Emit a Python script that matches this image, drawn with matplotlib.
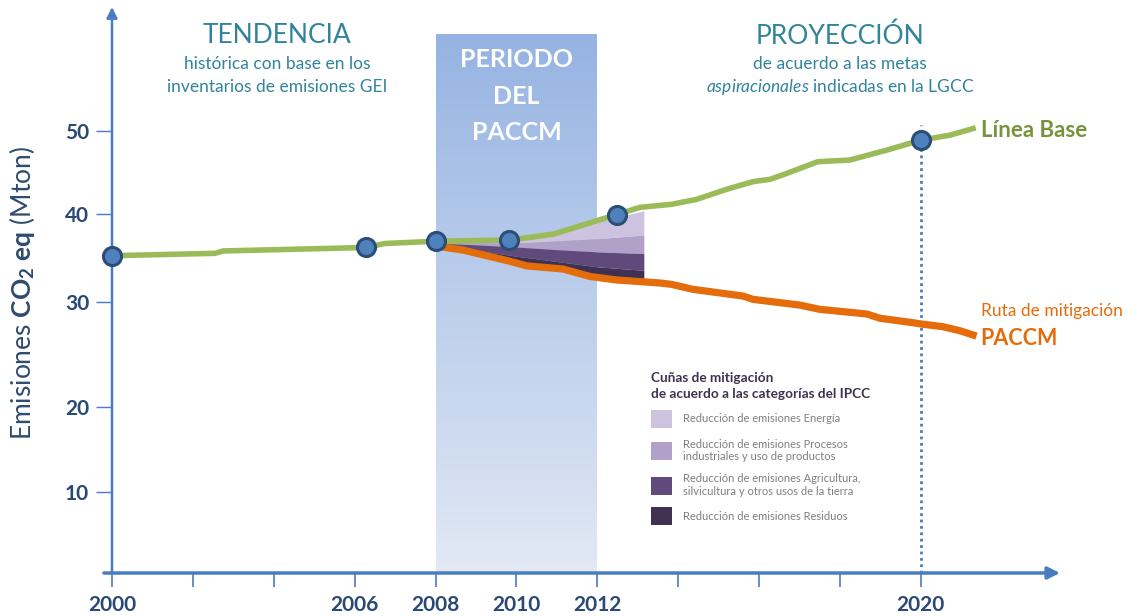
import numpy as np
import matplotlib
matplotlib.use("Agg")
import matplotlib.pyplot as plt
from matplotlib.colors import LinearSegmentedColormap

plt.rcParams['font.family'] = ['Lato', 'DejaVu Sans']
plt.rcParams['mathtext.fontset'] = 'custom'
plt.rcParams['mathtext.rm'] = 'Lato'
plt.rcParams['mathtext.it'] = 'Lato:italic'
plt.rcParams['mathtext.bf'] = 'Lato:bold'

# ---- data ----
base_years = [2000, 2002.55, 2002.74, 2005.44, 2006.28, 2006.75, 2008, 2009.81, 2010.26,
              2010.9, 2011.4, 2011.89, 2012.48, 2013.05, 2013.84, 2014.46, 2015.2, 2015.85,
              2016.27, 2016.69, 2017.45, 2018.24, 2019.16, 2020, 2020.72, 2021.29]
base_values = [35.26, 35.53, 35.8, 36.1, 36.2, 36.65, 36.9, 37.05, 37.3,
               37.7, 38.4, 39.1, 39.94, 40.8, 41.17, 41.77, 42.98, 43.9,
               44.18, 44.9, 46.3, 46.5, 47.7, 48.9, 49.5, 50.3]

mitig_years = [2008, 2008.68, 2009.81, 2010.26, 2011.15, 2011.82, 2012.48, 2013.55, 2013.84,
               2014.36, 2015.6, 2015.85, 2017.0, 2017.5, 2018.66, 2018.99, 2019.8, 2020.02,
               2020.54, 2020.96, 2021.29]
mitig_values = [36.36, 35.9, 34.66, 34.1, 33.75, 32.9, 32.5, 32.16, 32.0,
                31.44, 30.68, 30.3, 29.71, 29.3, 28.86, 28.45, 28.03, 27.9,
                27.65, 27.27, 26.86]

point_years = [2000, 2006.28, 2008, 2009.81, 2012.48, 2020]
point_values = [35.26, 36.2, 36.9, 37.05, 39.94, 48.9]

# mitigation wedges (boundaries from top to bottom)
wedge_years = [2008, 2009, 2010, 2011, 2012, 2013.15]
wedge_top = [36.9, 37.0, 37.1, 37.9, 39.1, 40.4]
wedge_b1 = [36.8, 36.75, 36.7, 36.95, 37.2, 37.6]
wedge_b2 = [36.7, 36.5, 36.25, 35.95, 35.7, 35.5]
wedge_b3 = [36.5, 35.9, 35.2, 34.6, 34.0, 33.6]
wedge_bottom = [36.36, 35.5, 34.4, 33.85, 32.9, 32.3]
wedge_labels = ['Reducción de emisiones Energía',
                'Reducción de emisiones Procesos\nindustriales y uso de productos',
                'Reducción de emisiones Agricultura,\nsilvicultura y otros usos de la tierra',
                'Reducción de emisiones Residuos']

period = (2008, 2012)
target_year = 2020

x_ticks = list(range(2000, 2021, 2))
x_labeled = [2000, 2006, 2008, 2010, 2012, 2020]
y_ticks = [10, 20, 30, 40, 50]

# the hand-drawn y axis is not evenly spaced: value -> height in px above the x axis
axis_vals = [0, 10, 20, 30, 40, 50, 65]
axis_px = [0, 81, 166, 271, 359, 442, 566]

AXIS = '#4a7cc0'
NAVY = '#2a4a75'
TEAL = '#31849b'
GREEN = '#9bbb59'
ORANGE = '#e46c0a'
WEDGE_COLORS = ['#cdc3de', '#b1a0c7', '#604a7b', '#403152']

fig = plt.figure(figsize=(11.41, 6.16), dpi=100)
ax = fig.add_axes([112 / 1141, 43 / 616, 948 / 1141, 566 / 616])
ax.set_yscale('function', functions=(lambda v: np.interp(v, axis_vals, axis_px),
                                     lambda h: np.interp(h, axis_px, axis_vals)))
ax.set_xlim(2000, 2023.44)
ax.set_ylim(0, 65)
for s in ax.spines.values():
    s.set_visible(False)

# period box with vertical gradient
cmap = LinearSegmentedColormap.from_list('period', ['#e3e9f5', '#95b3e2'])
grad = np.linspace(0, 1, 256).reshape(-1, 1)
ax.imshow(grad, cmap=cmap, origin='lower', aspect='auto',
          extent=(period[0], period[1], 0, 61.85), zorder=0)
ax.text(np.mean(period), 54.2, 'PERIODO\nDEL\nPACCM', color='white', fontsize=18,
        fontweight='bold', ha='center', va='center', linespacing=1.72, zorder=2)

# wedges
bounds = [wedge_top, wedge_b1, wedge_b2, wedge_b3, wedge_bottom]
handles = []
for i in range(4):
    h = ax.fill_between(wedge_years, bounds[i + 1], bounds[i], color=WEDGE_COLORS[i],
                        lw=0, zorder=2, label=wedge_labels[i])
    handles.append(h)

# lines
ax.plot(base_years, base_values, color=GREEN, lw=4.0, zorder=3, solid_joinstyle='round')
ax.plot(mitig_years, mitig_values, color=ORANGE, lw=5.2, zorder=4, solid_joinstyle='round')
ax.plot([target_year, target_year], [0, 50.7], color=AXIS, lw=2, ls=(0, (1, 1.3)), zorder=1)
ax.plot(point_years, point_values, 'o', ms=13, mfc='#4f81bd', mec='#2c4d75', mew=2.2,
        zorder=6, clip_on=False)

# axes with arrows
ax.annotate('', xy=(2023.44, 0), xytext=(1999.8, 0), annotation_clip=False,
            arrowprops=dict(arrowstyle='-|>', color=AXIS, lw=2.5, mutation_scale=18,
                            shrinkA=0, shrinkB=0), zorder=5)
ax.annotate('', xy=(2000, 65), xytext=(2000, 0), annotation_clip=False,
            arrowprops=dict(arrowstyle='-|>', color=AXIS, lw=1.8, mutation_scale=16,
                            shrinkA=0, shrinkB=0), zorder=5)

ax.set_xticks(x_ticks)
ax.set_xticklabels([str(t) if t in x_labeled else '' for t in x_ticks], fontweight='bold')
ax.set_yticks(y_ticks)
ax.set_yticklabels([str(t) for t in y_ticks], fontweight='bold')
ax.minorticks_off()
ax.tick_params(axis='x', direction='out', length=10, width=1.2, color=AXIS, pad=6,
               labelsize=15, labelcolor=NAVY)
ax.tick_params(axis='y', direction='out', length=11.5, width=1.0, color=AXIS, pad=5,
               labelsize=15, labelcolor=NAVY)

fig.text(22 / 1141, 1 - 293 / 616, r'Emisiones $\mathbf{CO}_\mathbf{2}$ $\mathbf{eq}$ (Mton)',
         rotation=90, ha='center', va='center', fontsize=19, color='#2f4b6e')

# headings
ax.text(2004.08, 61.5, 'TENDENCIA', color=TEAL, fontsize=19, ha='center', va='center')
ax.text(2004.08, 58.1, 'histórica con base en los', color=TEAL, fontsize=12.5,
        ha='center', va='center')
ax.text(2004.08, 55.3, 'inventarios de emisiones GEI', color=TEAL, fontsize=12.5,
        ha='center', va='center')
ax.text(2018.0, 61.5, 'PROYECCIÓN', color=TEAL, fontsize=19, ha='center', va='center')
ax.text(2018.0, 58.1, 'de acuerdo a las metas', color=TEAL, fontsize=12.5,
        ha='center', va='center')
ax.text(2018.0, 55.3, r'$\mathit{aspiracionales}$ indicadas en la LGCC', color=TEAL,
        fontsize=12.5, ha='center', va='center')

ax.text(2021.48, 50.1, 'Línea Base', color='#77933c', fontsize=16, fontweight='bold',
        va='center', ha='left')
ax.text(2021.48, 29.14, 'Ruta de mitigación', color=ORANGE, fontsize=12.5,
        va='center', ha='left')
ax.text(2021.48, 26.57, 'PACCM', color=ORANGE, fontsize=15.5, fontweight='bold',
        va='center', ha='left')

leg = ax.legend(handles=handles, loc='upper left', bbox_to_anchor=(651 / 1141, 1 - 372 / 616),
                bbox_transform=fig.transFigure, frameon=False, fontsize=8,
                title='Cuñas de mitigación\nde acuerdo a las categorías del IPCC',
                title_fontproperties={'weight': 'bold', 'size': 9.8}, alignment='left',
                handlelength=1.9, handleheight=2.1, handletextpad=1.0, labelspacing=0.95,
                borderpad=0, borderaxespad=0)
leg.get_title().set_color('#3f3151')
leg.get_title().set_linespacing(1.35)
for t in leg.get_texts():
    t.set_color('#7f7f7f')

fig.savefig('out.png', dpi=100)
